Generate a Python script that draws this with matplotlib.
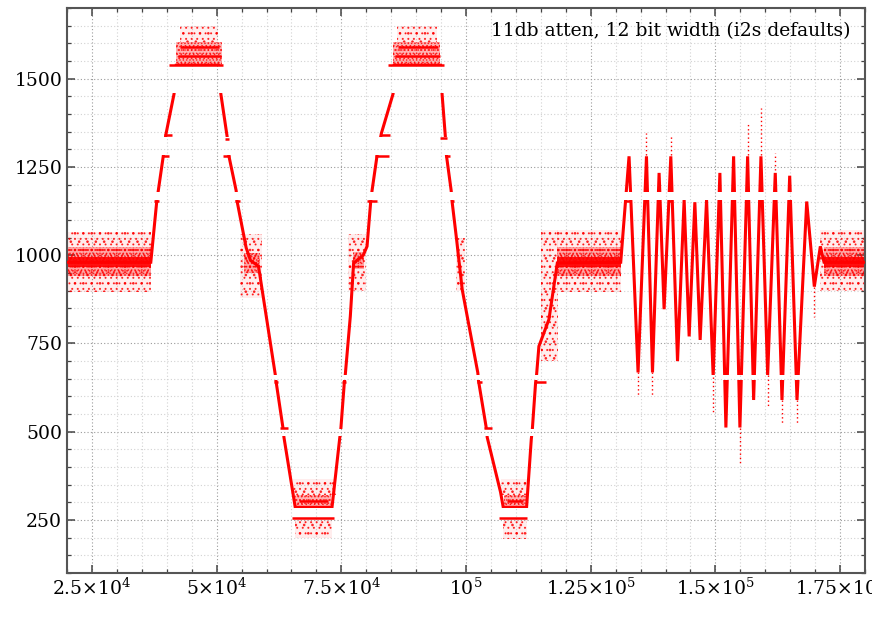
import numpy as np
import matplotlib
matplotlib.use("Agg")
import matplotlib.pyplot as plt
from matplotlib.path import Path
from matplotlib.ticker import FixedLocator, FixedFormatter, MultipleLocator

# ---------------- data ----------------
title_text = "11db atten, 12 bit width (i2s defaults)"

# main ADC trace: sample index vs code value
trace_x = [20000, 36800, 38000, 39317, 39800, 41466, 41900, 50400, 50843, 52168,
           52400, 53915, 54100, 55923, 56800, 58393, 61746, 61900, 63292, 63500,
           65762, 73132, 74658, 74900, 75602, 75800, 76806, 77469, 79400, 80159,
           80900, 81163, 82167, 83031, 85380, 85600, 94900, 95199, 95882, 96083,
           97027, 97200, 98093, 99238, 100242, 102371, 102500, 104054, 104255, 106926,
           107468, 112147, 113091, 113300, 113954, 114155, 114617, 116625, 118312, 131022,
           132691, 134498, 136185, 137390, 138715, 139719, 141065, 142410, 143735, 144739,
           145884, 146948, 148233, 149558, 150904, 152108, 153655, 154920, 156466, 157671,
           159137, 160482, 162008, 163354, 164900, 166366, 168314, 169840, 171045, 171788,
           180000]
trace_y = [980, 980, 1153, 1282, 1340, 1457, 1538, 1538, 1457, 1330,
           1285, 1183, 1153, 1021, 985, 969, 663, 644, 512, 484,
           286, 286, 479, 507, 639, 662, 827, 978, 1000, 1025,
           1153, 1183, 1282, 1345, 1457, 1538, 1538, 1457, 1332, 1282,
           1183, 1153, 1047, 903, 827, 667, 645, 512, 484, 329,
           286, 286, 479, 507, 639, 662, 742, 818, 978, 980,
           1280, 668, 1280, 668, 1233, 847, 1280, 700, 1157, 770,
           1150, 760, 1157, 655, 1233, 512, 1280, 512, 1280, 590,
           1280, 660, 1233, 590, 1225, 590, 1152, 911, 1025, 980,
           980]

# ADC codes that never occur (gaps in the trace)
missing_codes = [(259, 283), (487, 507), (646, 661), (1156, 1180), (1285, 1335), (1460, 1536)]

# codes where the signal dwells (short horizontal runs)
dwell_level = [1153, 1282, 1340, 1538, 1565, 1590, 1330, 1282, 1153, 640, 512, 257, 305, 640,
               1153, 1282, 1340, 1538, 1565, 1590, 1332, 1282, 1153, 640, 512, 257, 305, 640]
dwell_x0 = [37450, 39317, 39518, 40522, 42200, 42600, 51706, 51366, 53715, 61405, 62750, 65100, 66500, 75140,
            80159, 81829, 82830, 84375, 85800, 86300, 94878, 95882, 97027, 102110, 103511, 106584, 108200, 113954]
dwell_x1 = [38515, 40522, 40998, 51366, 50900, 50500, 52570, 52710, 54718, 62210, 64216, 73454, 72300, 76000,
            82167, 84507, 84838, 95540, 94800, 94300, 96284, 96886, 97549, 103255, 105258, 112147, 111400, 115962]

# dense noise around held values
dense_x0 = [20000, 118312, 171788]
dense_x1 = [36800, 131022, 180000]
dense_lo = [966, 966, 966]
dense_hi = [996, 996, 996]

# medium noise (speckled blocks)
medium_x0 = [20000, 118312, 171788, 41867, 85440, 65762, 107530, 55500, 77300]
medium_x1 = [36800, 131022, 180000, 51104, 94878, 72990, 111950, 58600, 79500]
medium_lo = [940, 940, 940, 1538, 1538, 286, 286, 950, 960]
medium_hi = [1022, 1022, 1022, 1603, 1603, 322, 322, 1005, 1010]

# sparse noise clouds
sparse_x0 = [20000, 118312, 171000, 42670, 86243, 65360, 65762, 106926, 107330, 54718, 76405, 98000, 114960]
sparse_x1 = [36800, 131022, 180000, 50300, 94276, 74000, 73190, 112550, 112147, 59136, 80019, 99800, 118375]
sparse_lo = [895, 895, 900, 1603, 1603, 322, 200, 322, 196, 880, 900, 900, 700]
sparse_hi = [1065, 1070, 1072, 1648, 1648, 366, 257, 366, 257, 1060, 1060, 1050, 1070]

# isolated outliers above peaks / below troughs of the burst
spike_x = [136185, 141065, 156466, 159137, 162008, 134498, 137390, 149558, 154920,
           160482, 163354, 166366, 169840]
spike_from = [1285, 1285, 1285, 1285, 1240, 668, 668, 655, 512, 660, 590, 590, 911]
spike_to = [1347, 1340, 1375, 1418, 1290, 600, 600, 555, 410, 573, 520, 520, 826]

x_tick_values = [25000, 50000, 75000, 100000, 125000, 150000, 175000]
x_tick_labels = [r"$2.5{\times}10^{4}$", r"$5{\times}10^{4}$", r"$7.5{\times}10^{4}$",
                 r"$10^{5}$", r"$1.25{\times}10^{5}$", r"$1.5{\times}10^{5}$",
                 r"$1.75{\times}10^{5}$"]
y_tick_values = [250, 500, 750, 1000, 1250, 1500]
y_tick_labels = ["250", "500", "750", "1000", "1250", "1500"]

# ---------------- style ----------------
plt.rcParams["font.family"] = ["DejaVu Serif"]
plt.rcParams["mathtext.fontset"] = "dejavuserif"
plt.rcParams["hatch.linewidth"] = 0.7
RED = "#ff0000"

fig = plt.figure(figsize=(8.72, 6.41), dpi=100)
ax = fig.add_axes([67 / 872, 1 - 573 / 641, (865 - 67) / 872, (573 - 8) / 641])
ax.set_xlim(20000, 180000)
ax.set_ylim(100, 1700)

# clip path that removes the missing codes
allowed = []
lo = -10000
for a, b in sorted(missing_codes):
    allowed.append((lo, a))
    lo = b
allowed.append((lo, 10000))
verts, codes = [], []
for a, b in allowed:
    verts += [(-1e6, a), (1e6, a), (1e6, b), (-1e6, b), (-1e6, a)]
    codes += [Path.MOVETO, Path.LINETO, Path.LINETO, Path.LINETO, Path.CLOSEPOLY]
gap_clip = Path(verts, codes)


def cloud(x0s, x1s, los, his, fill_alpha, hatches, z):
    for x0, x1, l, h in zip(x0s, x1s, los, his):
        ax.fill_between([x0, x1], [l, l], [h, h], facecolor=RED, alpha=fill_alpha,
                        linewidth=0, zorder=z)
        for hp in hatches:
            ax.fill_between([x0, x1], [l, l], [h, h], facecolor="none", edgecolor=RED,
                            hatch=hp, linewidth=0, alpha=0.75, zorder=z)


cloud(sparse_x0, sparse_x1, sparse_lo, sparse_hi, 0.07, ["..", "..."], 1)
cloud(medium_x0, medium_x1, medium_lo, medium_hi, 0.30, ["....", "....."], 1.5)
for x0, x1, l, h in zip(dense_x0, dense_x1, dense_lo, dense_hi):
    ax.fill_between([x0, x1], [l, l], [h, h], facecolor=RED, alpha=0.9, linewidth=0, zorder=2)

# main trace
line, = ax.plot(trace_x, trace_y, color=RED, lw=2.2, zorder=3, solid_joinstyle="miter")
line.set_clip_path(gap_clip, ax.transData)

# dwell runs
ax.hlines(dwell_level, dwell_x0, dwell_x1, color=RED, lw=1.8, zorder=3)

# flat caps where burst peaks pass through the missing 1156-1180 band
tx = np.array(trace_x, float)
ty = np.array(trace_y, float)
cap_level = 1153
for i in range(1, len(tx) - 1):
    if tx[i] > 125000 and ty[i] > cap_level and ty[i - 1] < cap_level and ty[i + 1] < cap_level:
        xa = tx[i - 1] + (cap_level - ty[i - 1]) / (ty[i] - ty[i - 1]) * (tx[i] - tx[i - 1])
        xb = tx[i] + (cap_level - ty[i]) / (ty[i + 1] - ty[i]) * (tx[i + 1] - tx[i])
        ax.hlines(cap_level, xa, xb, color=RED, lw=1.8, zorder=3)

# outliers
ax.vlines(spike_x, spike_from, spike_to, color=RED, lw=1.0, linestyles=(0, (1, 2)), zorder=3)

# axes styling
ax.xaxis.set_major_locator(FixedLocator(x_tick_values))
ax.xaxis.set_major_formatter(FixedFormatter(x_tick_labels))
ax.xaxis.set_minor_locator(MultipleLocator(5000))
ax.yaxis.set_major_locator(FixedLocator(y_tick_values))
ax.yaxis.set_major_formatter(FixedFormatter(y_tick_labels))
ax.yaxis.set_minor_locator(MultipleLocator(50))

ax.tick_params(which="both", direction="in", top=True, right=True, colors="#444444",
               labelcolor="black", labelsize=13.5)
ax.tick_params(which="major", length=5.5, width=1.1, pad=3.5)
ax.tick_params(which="minor", length=3, width=0.9)
for s in ax.spines.values():
    s.set_color("#555555")
    s.set_linewidth(1.5)

ax.set_axisbelow(True)
ax.grid(which="major", color="#9a9a9a", linestyle=(0, (1, 2)), linewidth=0.8)
ax.grid(which="minor", color="#d2d2d2", linestyle=(0, (1, 2)), linewidth=0.8)

ax.text(0.982, 0.975, title_text, transform=ax.transAxes, ha="right", va="top",
        fontsize=13.5, color="black", zorder=5)

fig.savefig("out.png", dpi=100)
